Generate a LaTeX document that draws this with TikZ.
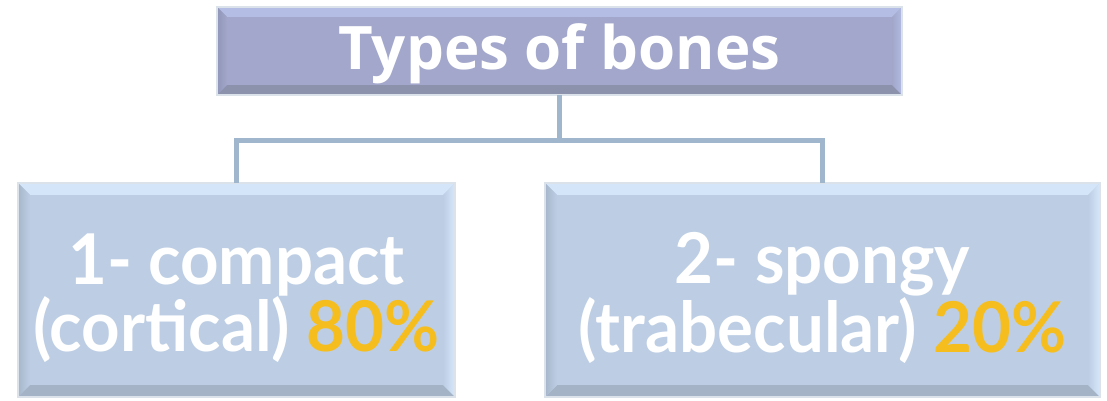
\documentclass[tikz,border=0pt]{standalone}
\usepackage{fontspec}
\usetikzlibrary{calc}
\newfontfamily\headfont{Open Sans}
\newfontfamily\itemfont[FakeStretch=0.96]{Lato}
\definecolor{headfill}{HTML}{A2A7CB}
\definecolor{headtop}{HTML}{B4BDE3}
\definecolor{headleft}{HTML}{9096B6}
\definecolor{headright}{HTML}{B3BBE4}
\definecolor{headbottom}{HTML}{8C91AC}
\definecolor{itemfill}{HTML}{BDCEE4}
\definecolor{itemtop}{HTML}{D4E4F9}
\definecolor{itemleft}{HTML}{A6B5CA}
\definecolor{itemright}{HTML}{D7E8FC}
\definecolor{itembottom}{HTML}{A5B3C6}
\definecolor{linkcol}{HTML}{A0B6CC}
\definecolor{rim}{HTML}{DCE2EA}
\definecolor{pct}{HTML}{F5BE1E}
% bevelled frame drawn around a named node: #1 node, #2 bevel depth, #3 colour prefix
\newcommand{\bevelframe}[3]{%
  \fill[#3top] (#1.north west) -- (#1.north east) -- ($(#1.north east)+(-#2,-#2)$) -- ($(#1.north west)+(#2,-#2)$) -- cycle;
  \fill[#3bottom] (#1.south west) -- (#1.south east) -- ($(#1.south east)+(-#2,#2)$) -- ($(#1.south west)+(#2,#2)$) -- cycle;
  \shade[left color=#3left, right color=#3fill] (#1.north west) -- ($(#1.north west)+(#2,-#2)$) -- ($(#1.south west)+(#2,#2)$) -- (#1.south west) -- cycle;
  \shade[left color=#3fill, right color=#3right] (#1.north east) -- ($(#1.north east)+(-#2,-#2)$) -- ($(#1.south east)+(-#2,#2)$) -- (#1.south east) -- cycle;
  \draw[rim, line width=1.5pt] (#1.north west) rectangle (#1.south east);
}
\tikzset{
  x=1pt, y=1pt,
  headbox/.style={rectangle, fill=headfill, minimum width=685pt, minimum height=88pt, inner sep=0pt},
  itembox/.style={rectangle, fill=itemfill, minimum height=214pt, inner sep=0pt},
  headtext/.style={text=white, font=\headfont\bfseries\fontsize{60}{60}\selectfont},
  itemtext/.style={text=white, align=center, font=\itemfont\bfseries\fontsize{70}{67}\selectfont},
  link/.style={draw=linkcol, line width=5pt}
}
\begin{document}
\begin{tikzpicture}
  \useasboundingbox (0,0) rectangle (1107,401);
  \node[headbox] (root) at (559.5,350) {};
  \node[itembox, minimum width=437pt] (compact) at (236.5,111) {};
  \node[itembox, minimum width=555pt] (spongy) at (822.5,111) {};
  \bevelframe{root}{10}{head}
  \bevelframe{compact}{12}{item}
  \bevelframe{spongy}{12}{item}
  \node[headtext, yshift=-3pt] (roottext) at (root.center) {Types of bones};
  \node[itemtext, yshift=-8pt] (compacttext) at (compact.center) {1- compact\\(cortical) \textcolor{pct}{80\%}};
  \node[itemtext, yshift=-8pt] (spongytext) at (spongy.center) {2- spongy\\(trabecular) \textcolor{pct}{20\%}};
  \coordinate (bus) at (559.5,260.5);
  \draw[link] (root.south) -- (bus);
  \draw[link] (bus) -| (compact.north);
  \draw[link] (bus) -| (spongy.north);
\end{tikzpicture}
\end{document}
